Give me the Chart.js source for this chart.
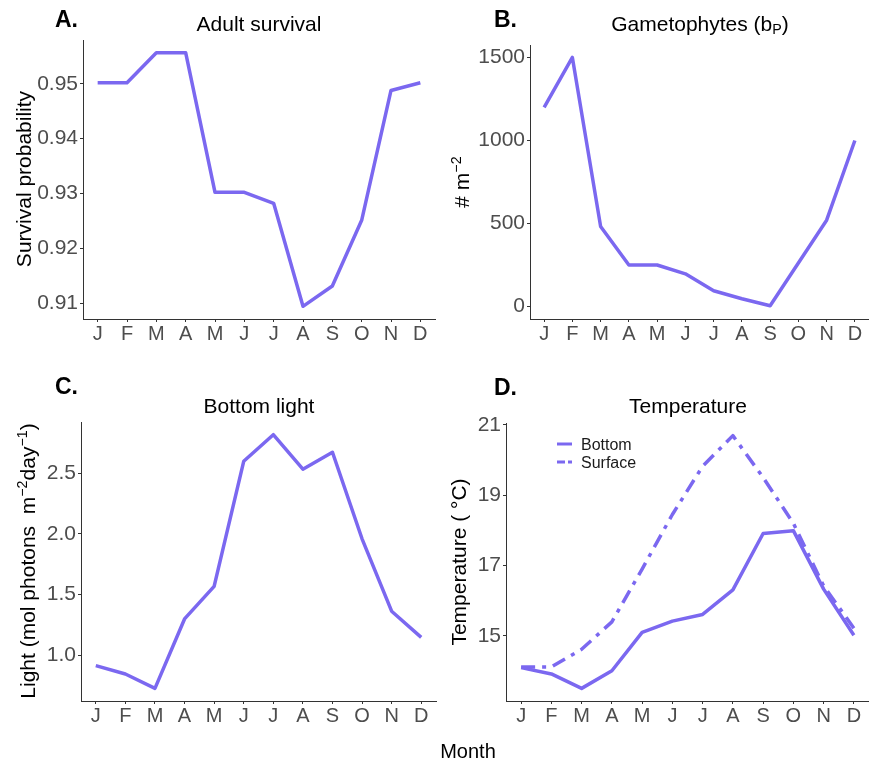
<!DOCTYPE html>
<html>
<head>
<meta charset="utf-8">
<script src="https://cdn.jsdelivr.net/npm/chart.js@4.4.1/dist/chart.umd.min.js"></script>
<style>
  html, body { margin: 0; padding: 0; background: #ffffff; }
  #wrap { position: relative; width: 869px; height: 767px; overflow: hidden; background: #fff; }
  canvas { position: absolute; left: 0; top: 0; }
  .t { position: absolute; font-family: "Liberation Sans", Arial, sans-serif; white-space: nowrap; line-height: 1; color: #000; z-index: 5; }
  .title { font-size: 21px; transform: translateX(-50%); }
  .lab { font-size: 23px; font-weight: bold; }
  .ytitle { font-size: 21px; transform: translate(-50%, -50%) rotate(-90deg); }
  .sup { font-size: 0.68em; vertical-align: 0.55em; line-height: 0; }
  .sub { font-size: 0.68em; vertical-align: -0.2em; line-height: 0; }
</style>
</head>
<body>
<div id="wrap">
  <canvas id="cA" width="869" height="767"></canvas>
  <canvas id="cB" width="869" height="767"></canvas>
  <canvas id="cC" width="869" height="767"></canvas>
  <canvas id="cD" width="869" height="767"></canvas>

  <div class="t lab" style="left:55px; top:8px;">A.</div>
  <div class="t lab" style="left:494px; top:8px;">B.</div>
  <div class="t lab" style="left:55px; top:375px;">C.</div>
  <div class="t lab" style="left:494px; top:376px;">D.</div>

  <div class="t title" style="left:259px; top:13px;">Adult survival</div>
  <div class="t title" style="left:700px; top:13px;">Gametophytes (b<span class="sub">P</span>)</div>
  <div class="t title" style="left:259px; top:395px;">Bottom light</div>
  <div class="t title" style="left:688px; top:395px;">Temperature</div>

  <div class="t ytitle" style="left:23px; top:179px;">Survival probability</div>
  <div class="t ytitle" style="left:461px; top:182px;"># m<span class="sup">−2</span></div>
  <div class="t ytitle" style="left:27px; top:561px;">Light (mol photons&nbsp; m<span class="sup">−2</span>day<span class="sup">−1</span>)</div>
  <div class="t ytitle" style="left:458px; top:562px;">Temperature (&nbsp;°C)</div>

  <div class="t" style="left:468px; top:741px; font-size:20px; transform:translateX(-50%);">Month</div>
</div>

<script>
// ---------------- data ----------------
const months = ['J','F','M','A','M','J','J','A','S','O','N','D'];

const survival = [0.9502, 0.9502, 0.9557, 0.9557, 0.9302, 0.9302, 0.9282, 0.9094, 0.9131, 0.9251, 0.9488, 0.9502];
const survivalTicks = [0.91, 0.92, 0.93, 0.94, 0.95];

const gametophytes = [1200, 1500, 482, 250, 250, 197, 95, 47, 5, 262, 520, 1000];
const gametophyteTicks = [0, 500, 1000, 1500];

const bottomLight = [0.912, 0.843, 0.725, 1.298, 1.567, 2.60, 2.82, 2.535, 2.675, 1.96, 1.362, 1.146];
const lightTicks = [1.0, 1.5, 2.0, 2.5];

const tempBottom  = [14.1, 13.92, 13.51, 14.01, 15.1, 15.42, 15.61, 16.31, 17.91, 17.99, 16.33, 15.02];
const tempSurface = [14.12, 14.12, 14.62, 15.40, 16.9, 18.45, 19.82, 20.69, 19.5, 18.2, 16.42, 15.22];
const tempTicks = [15, 17, 19, 21];

const seriesNames = ['Bottom', 'Surface'];

// ---------------- styling ----------------
const W = 869, H = 767;
const LINE = '#7B68F0';
const AXIS = '#333333';
const TICK_TXT = '#4D4D4D';
const FONT = '"Liberation Sans", Arial, sans-serif';

function yRange(vals) {
  const lo = Math.min(...vals), hi = Math.max(...vals);
  const pad = (hi - lo) * 0.05;
  return [lo - pad, hi + pad];
}

function makePanel(id, area, yTickVals, fmt, datasets, yr, plugins) {
  return new Chart(document.getElementById(id), {
    type: 'line',
    data: { labels: months, datasets: datasets },
    options: {
      responsive: false,
      animation: false,
      devicePixelRatio: 1,
      events: [],
      layout: { padding: { left: 0, top: area.t, right: W - area.r, bottom: 0 } },
      plugins: { legend: { display: false }, tooltip: { enabled: false }, title: { display: false } },
      elements: { point: { radius: 0 }, line: { tension: 0 } },
      scales: {
        x: {
          type: 'category',
          offset: true,
          grid: { drawOnChartArea: false, offset: false, tickLength: 3, color: AXIS, tickWidth: 1 },
          border: { color: AXIS, width: 1 },
          ticks: { color: TICK_TXT, font: { family: FONT, size: 20 }, padding: 0, maxRotation: 0, autoSkip: false },
          afterFit: (s) => { s.height = H - area.b; }
        },
        y: {
          type: 'linear',
          min: yr[0], max: yr[1],
          grid: { drawOnChartArea: false, tickLength: 3, color: AXIS, tickWidth: 1 },
          border: { color: AXIS, width: 1 },
          ticks: { color: TICK_TXT, font: { family: FONT, size: 21 }, padding: 2, callback: fmt },
          afterBuildTicks: (s) => { s.ticks = yTickVals.map(v => ({ value: v })); },
          afterFit: (s) => { s.width = area.l; }
        }
      }
    },
    plugins: plugins || []
  });
}

function lineDs(label, data, dash) {
  return {
    label: label,
    data: data,
    borderColor: LINE,
    backgroundColor: LINE,
    borderWidth: 3.5,
    borderDash: dash || [],
    borderCapStyle: 'butt',
    borderJoinStyle: 'round',
    fill: false,
    pointRadius: 0,
    clip: false
  };
}

// A. Adult survival
makePanel('cA', { l: 83, t: 40, r: 435, b: 319 }, survivalTicks, (v) => Number(v).toFixed(2),
  [lineDs('Adult survival', survival)], yRange(survival));

// B. Gametophytes
makePanel('cB', { l: 530, t: 45, r: 869, b: 319 }, gametophyteTicks, (v) => String(v),
  [lineDs('Gametophytes', gametophytes)], yRange(gametophytes.concat([0])));

// C. Bottom light
makePanel('cC', { l: 81, t: 422, r: 436, b: 701 }, lightTicks, (v) => Number(v).toFixed(1),
  [lineDs('Bottom light', bottomLight)], yRange(bottomLight));

// D. Temperature with inline legend
const legendPlugin = {
  id: 'inlineLegend',
  afterDraw(chart) {
    const ctx = chart.ctx;
    const x0 = 557, x1 = 572, tx = 581;
    const rows = [444, 462];
    const dashes = [[], [8, 3, 4, 3]];
    ctx.save();
    chart.data.datasets.forEach((ds, i) => {
      ctx.strokeStyle = ds.borderColor;
      ctx.lineWidth = 3;
      ctx.lineCap = 'butt';
      ctx.setLineDash(dashes[i]);
      ctx.beginPath();
      ctx.moveTo(x0, rows[i]);
      ctx.lineTo(x1, rows[i]);
      ctx.stroke();
      ctx.setLineDash([]);
      ctx.fillStyle = '#1a1a1a';
      ctx.font = '16px ' + FONT;
      ctx.textBaseline = 'alphabetic';
      ctx.textAlign = 'left';
      ctx.fillText(ds.label, tx, rows[i] + 6);
    });
    ctx.restore();
  }
};
makePanel('cD', { l: 506, t: 423, r: 869, b: 701 }, tempTicks, (v) => String(v),
  [lineDs(seriesNames[0], tempBottom), lineDs(seriesNames[1], tempSurface, [14, 7, 4, 7])],
  yRange(tempBottom.concat(tempSurface)), [legendPlugin]);
</script>
</body>
</html>
